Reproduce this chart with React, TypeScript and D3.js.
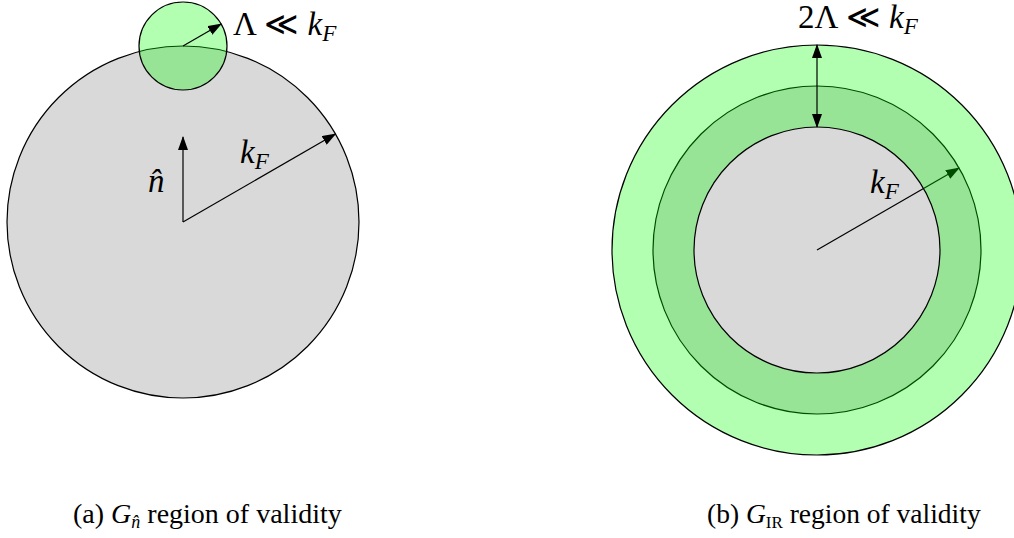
import React from "react";
import * as d3 from "d3";

// Momentum-space quantities (in units of k_F)
const fermiMomentum = [1];
const cutoffRatio = [0.25]; // Λ / k_F
const arrowAngleDeg = [30];
const panelIds = ["a", "b"];
const captionsPrefix = ["(a) ", "(b) "];
const captionsSub = ["n̂", "IR"];
const captionRest = [" region of validity", " region of validity"];

const W = 1014;
const H = 538;

const mathFont = "'Liberation Serif', 'DejaVu Serif', serif";
const textFont = "'Liberation Serif', 'DejaVu Serif', serif";

const GRAY = "#d9d9d9";
const GREEN = "#00ff00";
const GREEN_OP = 0.3;

function polar(cx: number, cy: number, r: number, deg: number) {
  const a = (deg * Math.PI) / 180;
  return [cx + r * Math.cos(a), cy - r * Math.sin(a)];
}

function KF({ x, y, size }: { x: number; y: number; size: number }) {
  return (
    <text x={x} y={y} fontFamily={mathFont} fontSize={size} fill="#000">
      <tspan fontStyle="italic">k</tspan>
      <tspan fontStyle="italic" fontSize={size * 0.7} dy={size * 0.17}>F</tspan>
    </text>
  );
}

export default function App() {
  const kF = fermiMomentum[0];
  const lam = cutoffRatio[0] * kF;
  const ang = arrowAngleDeg[0];

  // Panel (a)
  const sA = d3.scaleLinear().domain([0, kF]).range([0, 176]);
  const cA = [183, 222];
  const smallC = [cA[0], cA[1] - sA(kF)];
  const kTipA = polar(cA[0], cA[1], sA(kF), ang);
  const lamTipA = polar(smallC[0], smallC[1], sA(lam), ang);

  // Panel (b)
  const sB = d3.scaleLinear().domain([0, kF]).range([0, 164]);
  const cB = [817, 250];
  const kTipB = polar(cB[0], cB[1], sB(kF), ang);
  const annulus = d3.arc()({
    innerRadius: sB(kF - lam),
    outerRadius: sB(kF + lam),
    startAngle: 0,
    endAngle: 2 * Math.PI,
  } as any) as string;

  const sw = 1.2;
  const ms = 33; // math font size

  return (
    <div style={{ position: "fixed", left: 0, top: 0 }}>
      <svg width={W} height={H} viewBox={`0 0 ${W} ${H}`} style={{ display: "block", background: "#fff" }}>
        <defs>
          <marker id="ah" viewBox="0 0 14 10" refX={13} refY={5} markerWidth={14} markerHeight={10}
            markerUnits="userSpaceOnUse" orient="auto-start-reverse">
            <path d="M0,0 L14,5 L0,10 Z" fill="#000" />
          </marker>
        </defs>

        {/* Panel (a) */}
        <g id={`panel-${panelIds[0]}`}>
          <circle cx={cA[0]} cy={cA[1]} r={sA(kF)} fill={GRAY} stroke="#000" strokeWidth={sw} />
          <line x1={cA[0]} y1={cA[1]} x2={cA[0]} y2={cA[1] - 85} stroke="#000" strokeWidth={sw} markerEnd="url(#ah)" />
          <line x1={cA[0]} y1={cA[1]} x2={kTipA[0]} y2={kTipA[1]} stroke="#000" strokeWidth={sw} markerEnd="url(#ah)" />
          <circle cx={smallC[0]} cy={smallC[1]} r={sA(lam)} fill={GREEN} fillOpacity={GREEN_OP} stroke="#000" strokeWidth={sw} />
          <line x1={smallC[0]} y1={smallC[1]} x2={lamTipA[0]} y2={lamTipA[1]} stroke="#000" strokeWidth={sw} markerEnd="url(#ah)" />
          <text x={233} y={35} fontFamily={mathFont} fontSize={ms} fill="#000">
            <tspan>Λ ≪ </tspan>
            <tspan fontStyle="italic">k</tspan>
            <tspan fontStyle="italic" fontSize={ms * 0.7} dy={ms * 0.17}>F</tspan>
          </text>
          <KF x={240} y={163} size={ms} />
          <text x={148} y={192} fontFamily={mathFont} fontSize={ms} fontStyle="italic" fill="#000">n̂</text>
        </g>

        {/* Panel (b) */}
        <g id={`panel-${panelIds[1]}`}>
          <circle cx={cB[0]} cy={cB[1]} r={sB(kF)} fill={GRAY} stroke="#000" strokeWidth={sw} />
          <line x1={cB[0]} y1={cB[1]} x2={kTipB[0]} y2={kTipB[1]} stroke="#000" strokeWidth={sw} markerEnd="url(#ah)" />
          <path d={annulus} transform={`translate(${cB[0]},${cB[1]})`} fill={GREEN} fillOpacity={GREEN_OP} stroke="none" />
          <circle cx={cB[0]} cy={cB[1]} r={sB(kF - lam)} fill="none" stroke="#000" strokeWidth={sw} />
          <circle cx={cB[0]} cy={cB[1]} r={sB(kF + lam)} fill="none" stroke="#000" strokeWidth={sw} />
          <line x1={cB[0]} y1={cB[1] - sB(kF + lam)} x2={cB[0]} y2={cB[1] - sB(kF - lam)} stroke="#000" strokeWidth={sw}
            markerStart="url(#ah)" markerEnd="url(#ah)" />
          <text x={798} y={28} fontFamily={mathFont} fontSize={ms} fill="#000">
            <tspan>2Λ ≪ </tspan>
            <tspan fontStyle="italic">k</tspan>
            <tspan fontStyle="italic" fontSize={ms * 0.7} dy={ms * 0.17}>F</tspan>
          </text>
          <KF x={870} y={193} size={ms} />
        </g>

        {/* Captions */}
        <text x={73} y={523} fontFamily={textFont} fontSize={28} fill="#000">
          <tspan>{captionsPrefix[0]}</tspan>
          <tspan fontStyle="italic">G</tspan>
          <tspan fontStyle="italic" fontSize={18} dy={5}>{captionsSub[0]}</tspan>
          <tspan dy={-5}>{captionRest[0]}</tspan>
        </text>
        <text x={707} y={523} fontFamily={textFont} fontSize={27.5} fill="#000">
          <tspan>{captionsPrefix[1]}</tspan>
          <tspan fontStyle="italic">G</tspan>
          <tspan fontSize={17} dy={5}>{captionsSub[1]}</tspan>
          <tspan dy={-5}>{captionRest[1]}</tspan>
        </text>
      </svg>
    </div>
  );
}
